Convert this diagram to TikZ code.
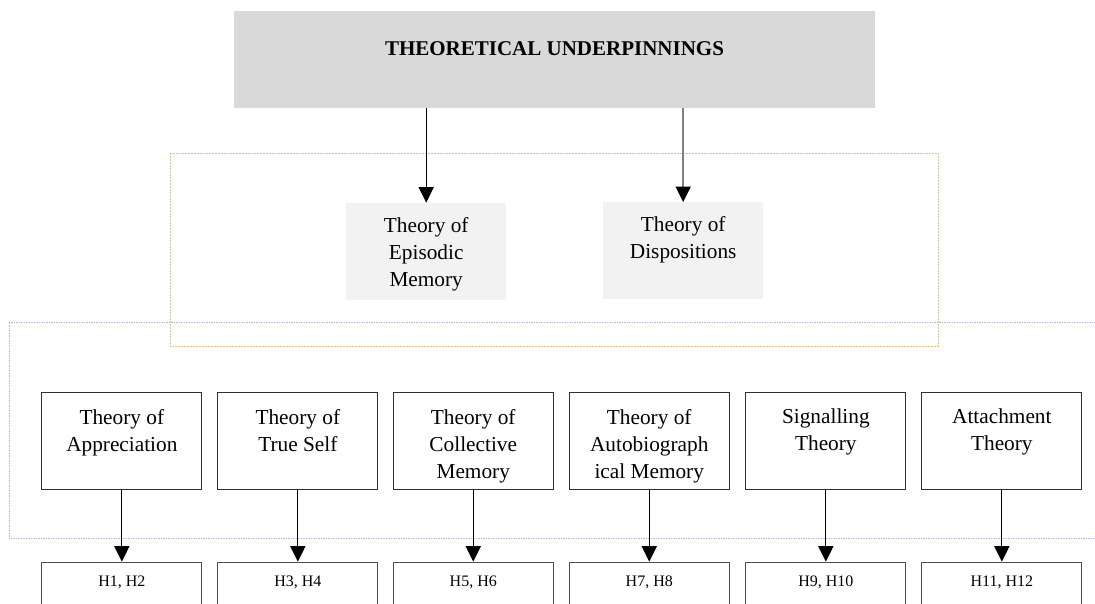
\documentclass[tikz,border=0pt]{standalone}
\usepackage{fontspec}
\setmainfont{Liberation Serif}
\usetikzlibrary{arrows.meta}
\definecolor{headgray}{HTML}{D9D9D9}
\definecolor{midgray}{HTML}{F2F2F2}
\definecolor{goldline}{HTML}{E6C27A}
\definecolor{blueline}{HTML}{AEBCD8}
\definecolor{boxline}{HTML}{303030}
\begin{document}
\begin{tikzpicture}[x=1pt,y=-1pt,
  theorybox/.style={draw=boxline, line width=1.1pt, minimum width=160pt, minimum height=97pt, inner sep=0pt, anchor=north west},
  hypbox/.style={draw=boxline!85, line width=1.1pt, minimum width=160pt, minimum height=60pt, inner sep=0pt, anchor=north west},
  midbox/.style={fill=midgray, minimum width=160pt, minimum height=97pt, inner sep=0pt, anchor=north west},
  boxtext/.style={anchor=north, inner sep=0pt, align=center, font=\fontsize{21.3}{27.2}\selectfont},
  htext/.style={anchor=base, inner sep=0pt, font=\fontsize{16}{19}\selectfont},
  flow/.style={line width=1.1pt, -{Triangle[length=15.5pt,width=15pt]}},
]
\useasboundingbox (0,0) rectangle (1095,603);
\clip (0,0) rectangle (1095,603);

% grouping frames
\draw[goldline, line width=1pt, dash pattern=on 2pt off 1pt] (170,153.3) rectangle (938,346.3);
\draw[blueline, line width=1pt, dash pattern=on 1.5pt off 1pt] (9,322.7) rectangle (1110,538.7);

% heading
\node[fill=headgray, minimum width=641pt, minimum height=96.5pt, inner sep=0pt, anchor=north west] (head) at (234,11) {};
\node[anchor=base, inner sep=0pt, font=\bfseries\fontsize{21}{25}\selectfont] (title) at (554.5,55.7) {THEORETICAL UNDERPINNINGS};

% overarching theories
\node[midbox] (epi) at (346,202.7) {};
\node[boxtext] (epitxt) at ([yshift=-14.5pt]epi.north) {Theory of\\Episodic\\Memory};
\node[midbox] (disp) at (603,202) {};
\node[boxtext] (disptxt) at ([yshift=-14.5pt]disp.north) {Theory of\\Dispositions};

\draw[flow] (head.south -| epi.north) -- (epi.north);
\draw[line width=2pt, draw=black!50, -{Triangle[length=15.5pt,width=15pt,color=black]}] (head.south -| disp.north) -- (disp.north);

% supporting theories
\node[theorybox] (t1) at (41.3,392.3) {};
\node[theorybox] (t2) at (217.3,392.3) {};
\node[theorybox] (t3) at (392.7,392.3) {};
\node[theorybox] (t4) at (568.7,392.3) {};
\node[theorybox] (t5) at (745.3,392.3) {};
\node[theorybox] (t6) at (921.3,392.3) {};

\node[boxtext] (t1txt) at ([yshift=-16.5pt]t1.north) {Theory of\\Appreciation};
\node[boxtext] (t2txt) at ([yshift=-16.5pt]t2.north) {Theory of\\True Self};
\node[boxtext] (t3txt) at ([yshift=-16.5pt]t3.north) {Theory of\\Collective\\Memory};
\node[boxtext] (t4txt) at ([yshift=-16.5pt]t4.north) {Theory of\\Autobiograph\\ical Memory};
\node[boxtext] (t5txt) at ([yshift=-16.5pt]t5.north) {Signalling\\Theory};
\node[boxtext] (t6txt) at ([yshift=-16.5pt]t6.north) {Attachment\\Theory};

% hypotheses
\node[hypbox] (h1) at (41.3,561.7) {};
\node[hypbox] (h2) at (217.3,561.7) {};
\node[hypbox] (h3) at (392.7,561.7) {};
\node[hypbox] (h4) at (568.7,561.7) {};
\node[hypbox] (h5) at (745.3,561.7) {};
\node[hypbox] (h6) at (921.3,561.7) {};

\node[htext] (h1txt) at ([yshift=-25pt]h1.north) {H1, H2};
\node[htext] (h2txt) at ([yshift=-25pt]h2.north) {H3, H4};
\node[htext] (h3txt) at ([yshift=-25pt]h3.north) {H5, H6};
\node[htext] (h4txt) at ([yshift=-25pt]h4.north) {H7, H8};
\node[htext] (h5txt) at ([yshift=-25pt]h5.north) {H9, H10};
\node[htext] (h6txt) at ([yshift=-25pt]h6.north) {H11, H12};

\foreach \i in {1,...,6} \draw[flow] (t\i.south) -- (h\i.north);
\end{tikzpicture}
\end{document}
